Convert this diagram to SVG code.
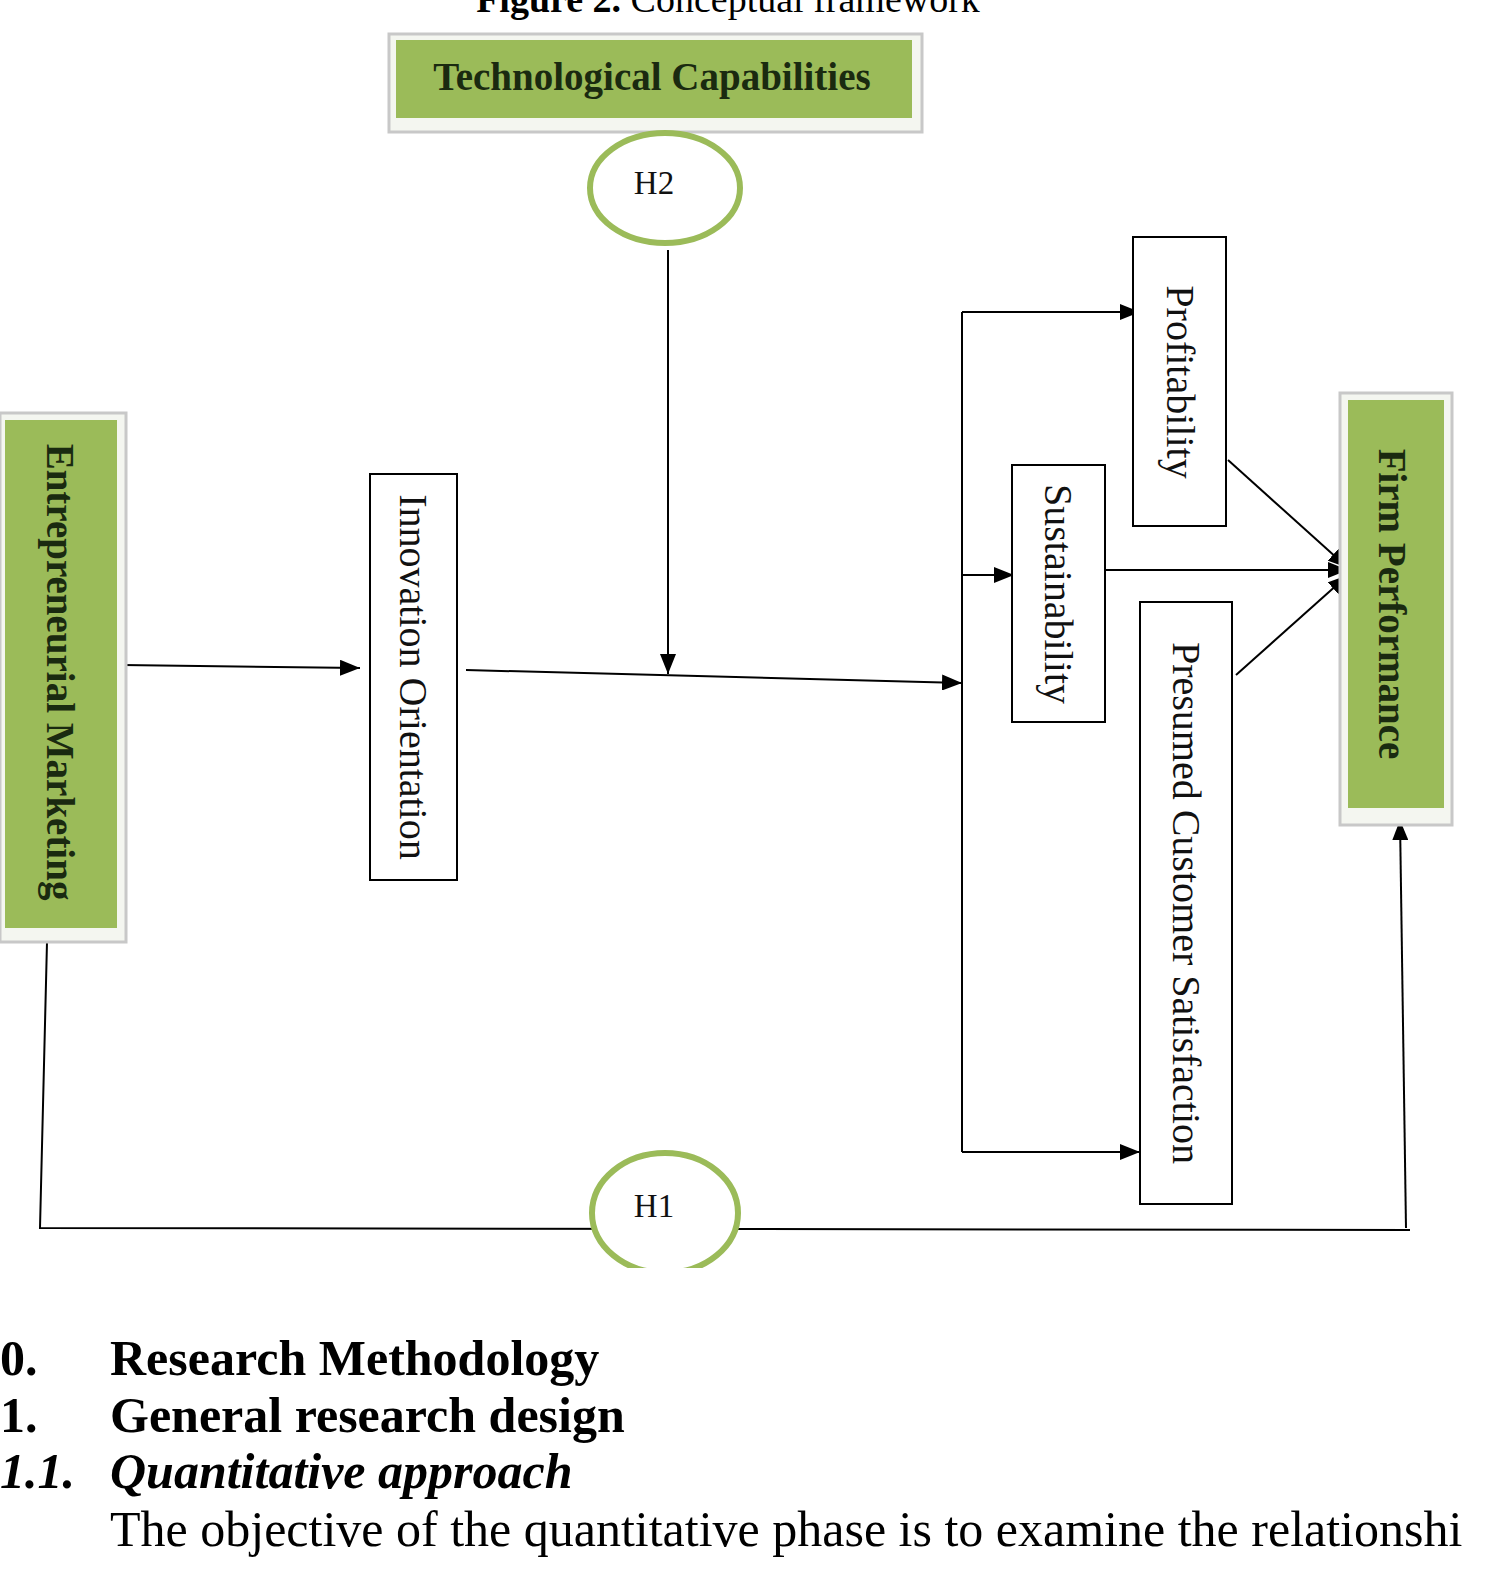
<svg xmlns="http://www.w3.org/2000/svg" width="1488" height="1582" viewBox="0 0 1488 1582">
<style>
.frame{fill:#f4f6f0;stroke:#c8c8c8;stroke-width:3}
.green{fill:#9bbb59}
.box{fill:#fff;stroke:#000;stroke-width:2}
.bt{font-family:"Liberation Serif",serif;font-weight:bold;font-size:39px;fill:#1a2a10}
.nt{font-family:"Liberation Serif",serif;font-size:40px;fill:#111}
.hy{fill:#fff;stroke:#9bbb59;stroke-width:6}
.ln{stroke:#000;stroke-width:2;fill:none}
.body{font-family:"Liberation Serif",serif;font-size:50px;fill:#000}
</style>
<defs>
<marker id="b" markerWidth="22" markerHeight="16" refX="20" refY="8" orient="auto" markerUnits="userSpaceOnUse"><path d="M0,0 L20,8 L0,16z"/></marker></defs>
<rect width="1488" height="1582" fill="#fff"/>
<text x="728" y="12" text-anchor="middle" class="body" style="font-size:38px"><tspan font-weight="bold">Figure 2.</tspan> Conceptual framework</text>
<g id="connectors">
<line class="ln" x1="668" y1="250" x2="668" y2="674" marker-end="url(#b)"/>
<line class="ln" x1="122" y1="665" x2="360" y2="668" marker-end="url(#b)"/>
<line class="ln" x1="466" y1="670" x2="962" y2="683" marker-end="url(#b)"/>
<line class="ln" x1="962" y1="312" x2="962" y2="1152"/>
<line class="ln" x1="962" y1="312" x2="1140" y2="312" marker-end="url(#b)"/>
<line class="ln" x1="962" y1="575" x2="1014" y2="575" marker-end="url(#b)"/>
<line class="ln" x1="962" y1="1152" x2="1140" y2="1152" marker-end="url(#b)"/>
<line class="ln" x1="1228" y1="460" x2="1348" y2="568" marker-end="url(#b)"/>
<line class="ln" x1="1105" y1="570" x2="1348" y2="570" marker-end="url(#b)"/>
<line class="ln" x1="1236" y1="675" x2="1348" y2="575" marker-end="url(#b)"/>
<polyline class="ln" points="47,942 40,1228 1410,1230"/>
<line class="ln" x1="1406" y1="1228" x2="1400" y2="820" marker-end="url(#b)"/>
</g>
<g id="tech"><rect class="frame" x="389" y="34" width="533" height="98"/><rect class="green" x="396" y="40" width="516" height="78"/><text class="bt" x="652" y="90" text-anchor="middle">Technological Capabilities</text></g>
<g id="h2"><ellipse class="hy" cx="665" cy="188" rx="75" ry="55"/><text class="nt" x="654" y="194" text-anchor="middle" style="font-size:33px">H2</text></g>
<g id="em"><rect class="frame" x="0" y="413" width="126" height="529"/><rect class="green" x="5" y="420" width="112" height="508"/><text class="bt" transform="translate(60,672) rotate(90)" text-anchor="middle" dy="13">Entrepreneurial Marketing</text></g>
<g id="io"><rect class="box" x="370" y="474" width="87" height="406"/><text class="nt" transform="translate(413,677) rotate(90)" text-anchor="middle" dy="13">Innovation Orientation</text></g>
<g id="prof"><rect class="box" x="1133" y="237" width="93" height="289"/><text class="nt" transform="translate(1180,382) rotate(90)" text-anchor="middle" dy="13">Profitability</text></g>
<g id="sust"><rect class="box" x="1012" y="465" width="93" height="257"/><text class="nt" transform="translate(1058,594) rotate(90)" text-anchor="middle" dy="13">Sustainability</text></g>
<g id="pcs"><rect class="box" x="1140" y="602" width="92" height="602"/><text class="nt" transform="translate(1186,903) rotate(90)" text-anchor="middle" dy="13">Presumed Customer Satisfaction</text></g>
<g id="fp"><rect class="frame" x="1340" y="393" width="112" height="432"/><rect class="green" x="1348" y="400" width="96" height="408"/><text class="bt" transform="translate(1392,604) rotate(90)" text-anchor="middle" dy="13">Firm Performance</text></g>
<g id="h1"><ellipse class="hy" cx="665" cy="1213" rx="73" ry="60"/><text class="nt" x="654" y="1217" text-anchor="middle" style="font-size:33px">H1</text></g>
<rect x="0" y="1268" width="1488" height="50" fill="#fff"/>
<g font-weight="bold" class="body">
<text x="0" y="1375">0.</text><text x="110" y="1375">Research Methodology</text>
<text x="0" y="1432">1.</text><text x="110" y="1432">General research design</text>
<text x="0" y="1488" font-style="italic">1.1.</text><text x="110" y="1488" font-style="italic">Quantitative approach</text>
</g>
<text class="body" x="110" y="1546">The objective of the quantitative phase is to examine the relationshi</text>
</svg>
